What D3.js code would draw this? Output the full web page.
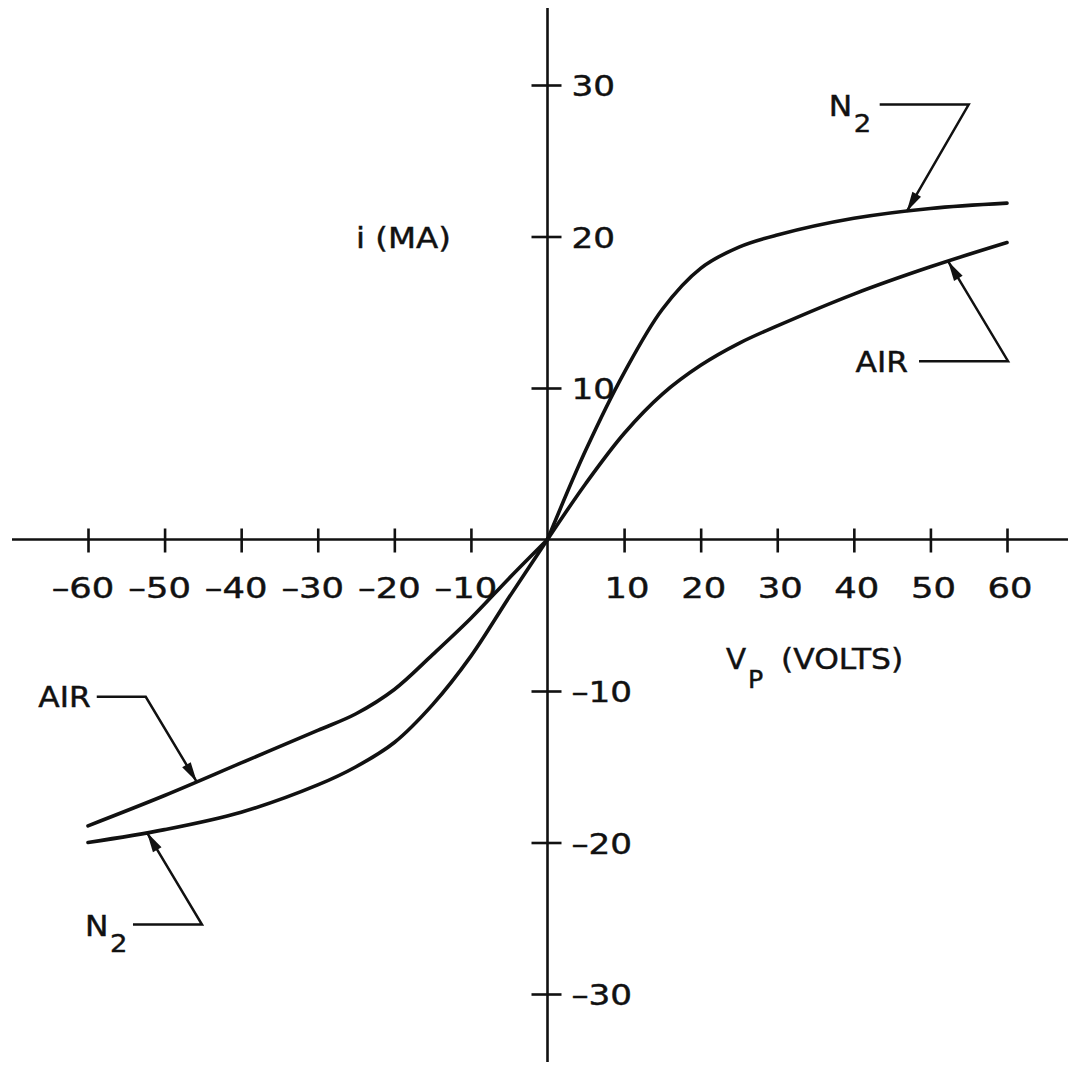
<!DOCTYPE html>
<html>
<head>
<meta charset="utf-8">
<script src="https://cdn.jsdelivr.net/npm/d3@7"></script>
<style>
  html, body { margin: 0; padding: 0; background: #fff; }
  svg { display: block; }
  text { font-family: "DejaVu Sans", sans-serif; fill: #111; stroke: #111; stroke-width: 0.45; }
</style>
</head>
<body>
<div id="chart"></div>
<script>
// Probe current i (mA) versus probe voltage Vp (volts) in N2 and in air.
const volts = [-60, -50, -40, -30, -25, -20, -15, -10, -5, 0, 5, 10, 15, 20, 25, 30, 40, 50, 60];
const currentN2 = [-20.0, -19.15, -18.0, -16.2, -15.0, -13.4, -10.9, -7.7, -3.8, 0, 5.9, 11.0, 15.2, 17.9, 19.3, 20.1, 21.2, 21.85, 22.2];
const currentAir = [-18.9, -16.9, -14.75, -12.6, -11.5, -9.9, -7.6, -5.2, -2.55, 0, 3.7, 7.0, 9.6, 11.5, 12.95, 14.1, 16.2, 18.0, 19.6];

const xTicks = [-60, -50, -40, -30, -20, -10, 10, 20, 30, 40, 50, 60];
const xTickLabels = ["\u201360", "\u201350", "\u201340", "\u201330", "\u201320", "\u201310", "10", "20", "30", "40", "50", "60"];
const yTicks = [30, 20, 10, -10, -20, -30];
const yTickLabels = ["30", "20", "10", "\u201310", "\u201320", "\u201330"];

// Callouts: which curve, the voltage where the arrow lands, and the label.
const calloutSeries = ["N2", "AIR", "AIR", "N2"];
const calloutVolts = [46.9, 52.3, -45.8, -52.3];

const W = 1071, H = 1065;
const svg = d3.select("#chart").append("svg").attr("width", W).attr("height", H);
svg.append("rect").attr("width", W).attr("height", H).attr("fill", "#fff");

const x = d3.scaleLinear().domain([-60, 60]).range([88, 1007]);
const y = d3.scaleLinear().domain([-30, 30]).range([994, 85]);
const x0 = x(0), y0 = y(0);
const ink = "#111";

// Axes crossing at the origin
svg.append("line").attr("x1", 12).attr("x2", 1068).attr("y1", y0).attr("y2", y0)
  .attr("stroke", ink).attr("stroke-width", 2.6);
svg.append("line").attr("x1", x0).attr("x2", x0).attr("y1", 8).attr("y2", 1062)
  .attr("stroke", ink).attr("stroke-width", 2.6);

// Horizontal axis ticks (cross the axis line)
const xAxis = d3.axisBottom(x).tickValues(xTicks).tickSize(0).tickFormat("");
const gx = svg.append("g").attr("transform", `translate(0,${y0})`).call(xAxis);
gx.select(".domain").remove();
gx.selectAll(".tick line").attr("y1", -11).attr("y2", 13).attr("stroke", ink).attr("stroke-width", 2.6);
xTicks.forEach((v, i) => {
  const cx = v < 0 ? x(v) - 5 : x(v) + 3;
  svg.append("g").attr("transform", `translate(${cx},${y0 + 58})`)
    .append("text").attr("transform", "scale(1.22,1)")
    .attr("text-anchor", "middle").attr("font-size", 29).text(xTickLabels[i]);
});

// Vertical axis ticks
const yAxis = d3.axisLeft(y).tickValues(yTicks).tickSize(0).tickFormat("");
const gy = svg.append("g").attr("transform", `translate(${x0},0)`).call(yAxis);
gy.select(".domain").remove();
gy.selectAll(".tick line").attr("x1", -16).attr("x2", 14).attr("stroke", ink).attr("stroke-width", 2.6);
yTicks.forEach((v, i) => {
  svg.append("g").attr("transform", `translate(${x0 + 24},${y(v) + 11})`)
    .append("text").attr("transform", "scale(1.18,1)")
    .attr("font-size", 29).text(yTickLabels[i]);
});

// Axis titles
svg.append("g").attr("transform", "translate(356,248)")
  .append("text").attr("transform", "scale(1.12,1)").attr("font-size", 29).text("i (MA)");
const vt = svg.append("g").attr("transform", "translate(726,669)");
vt.append("text").attr("transform", "scale(1.05,1)").attr("font-size", 28).text("V");
vt.append("text").attr("x", 21).attr("y", 19).attr("transform", "scale(1.05,1)").attr("font-size", 24).text("P");
svg.append("g").attr("transform", "translate(781,669)")
  .append("text").attr("transform", "scale(1.12,1)").attr("font-size", 28).text("(VOLTS)");

// Characteristic curves: each branch is smoothed from the origin outwards
const seriesData = {
  N2: volts.map((v, i) => [v, currentN2[i]]),
  AIR: volts.map((v, i) => [v, currentAir[i]])
};
const line = d3.line().x(d => x(d[0])).y(d => y(d[1])).curve(d3.curveCatmullRom.alpha(0.5));
["N2", "AIR"].forEach(k => {
  const pts = seriesData[k];
  [pts.filter(d => d[0] <= 0), pts.filter(d => d[0] >= 0)].forEach(branch => {
    svg.append("path").attr("d", line(branch))
      .attr("fill", "none").attr("stroke", ink).attr("stroke-width", 3.6)
      .attr("stroke-linecap", "round");
  });
});

// Current on a curve at an arbitrary voltage (linear between readings)
function currentAt(key, v) {
  const vals = key === "N2" ? currentN2 : currentAir;
  const i = Math.max(1, Math.min(volts.length - 1, d3.bisectLeft(volts, v)));
  const t = (v - volts[i - 1]) / (volts[i] - volts[i - 1]);
  return vals[i - 1] + t * (vals[i] - vals[i - 1]);
}

// Leader geometry relative to the arrow tip: elbow, free end, label placement
const callouts = [
  { elbow: [62, -107], end: [-27, -107], text: "N", sub: "2", tx: -51, ty: 11, sx: -26, sy: 27, anchor: "start" },
  { elbow: [60, 100], end: [-29, 100], text: "AIR", tx: -11, ty: 11, anchor: "end" },
  { elbow: [-51, -85], end: [-100, -85], text: "AIR", tx: -6, ty: 10, anchor: "end" },
  { elbow: [55, 92], end: [-14, 92], text: "N", sub: "2", tx: -48, ty: 11, sx: -23, sy: 27, anchor: "start" }
];

callouts.forEach((c, i) => {
  const v = calloutVolts[i];
  const tipX = x(v);
  const tipY = y(currentAt(calloutSeries[i], v));
  const ex = tipX + c.elbow[0], ey = tipY + c.elbow[1];
  const fx = tipX + c.end[0], fy = tipY + c.end[1];
  svg.append("polyline")
    .attr("points", `${fx},${fy} ${ex},${ey} ${tipX},${tipY}`)
    .attr("fill", "none").attr("stroke", ink).attr("stroke-width", 2.5)
    .attr("stroke-linejoin", "miter");
  // filled arrowhead pointing at the curve
  const ang = Math.atan2(tipY - ey, tipX - ex);
  const len = 20, half = 5;
  const bx = tipX - len * Math.cos(ang), by = tipY - len * Math.sin(ang);
  const px = -Math.sin(ang) * half, py = Math.cos(ang) * half;
  svg.append("path")
    .attr("d", `M${tipX},${tipY}L${bx + px},${by + py}L${bx - px},${by - py}Z`)
    .attr("fill", ink);
  // label
  const lg = svg.append("g").attr("transform", `translate(${fx + c.tx},${fy + c.ty})`);
  lg.append("text").attr("transform", "scale(1.12,1)").attr("text-anchor", c.anchor)
    .attr("font-size", 28).text(c.text);
  if (c.sub) {
    svg.append("g").attr("transform", `translate(${fx + c.sx},${fy + c.sy})`)
      .append("text").attr("transform", "scale(1.1,1)").attr("font-size", 25).text(c.sub);
  }
});
</script>
</body>
</html>
